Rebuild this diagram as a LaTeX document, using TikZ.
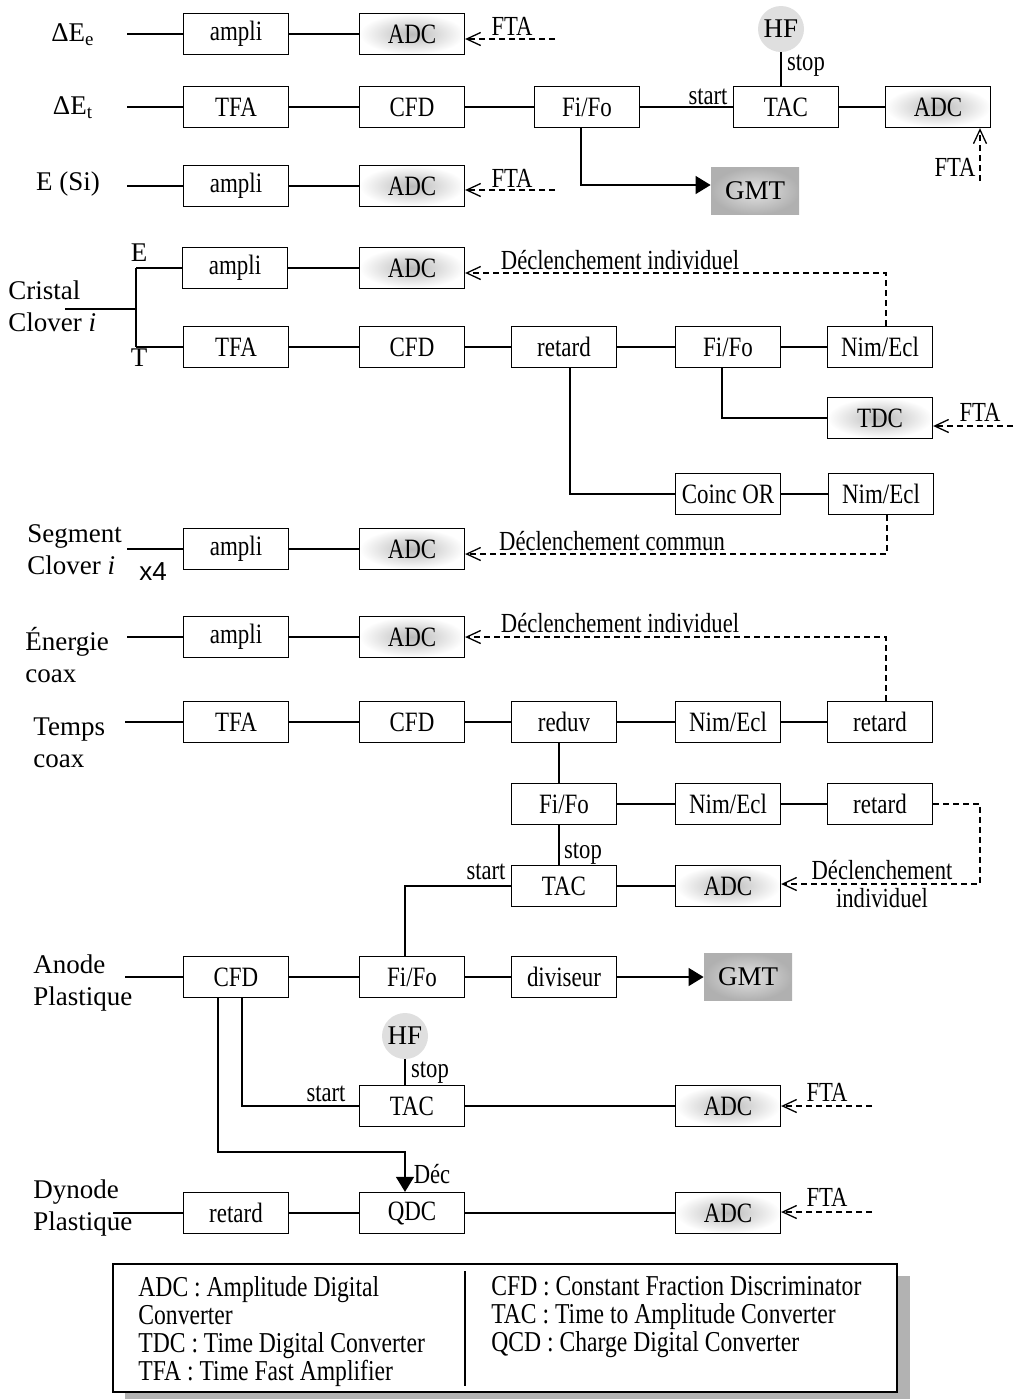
\documentclass[tikz,border=0pt]{standalone}
\usepackage{fontspec}
\setmainfont{Liberation Serif}[FakeStretch=0.82]
\newfontfamily\lblfont{Liberation Serif}
\newfontfamily\xfont{Liberation Sans}
\usetikzlibrary{arrows.meta}
\tikzset{
	blk/.style={draw, line width=0.65pt, minimum width=52.5pt, minimum height=20.5pt, inner sep=0pt, font=\fontsize{14}{15}\selectfont},
	adcbox/.style={blk, inner color=gray!55, outer color=white},
	gmtbox/.style={minimum width=44pt, minimum height=23.5pt, inner color=gray!22, outer color=gray!62, font=\lblfont\fontsize{13.5}{16}\selectfont},
	hfdot/.style={circle, fill=gray!25, minimum size=23pt, inner sep=0pt, font=\lblfont\fontsize{13.5}{16}\selectfont},
	lbl/.style={font=\lblfont\fontsize{13.5}{16}\selectfont, align=left, inner sep=0pt},
	tag/.style={font=\fontsize{13.8}{14}\selectfont, inner sep=0pt},
	keytext/.style={anchor=north west, align=left, inner sep=0pt, font=\fontsize{14.4}{14}\selectfont},
	wire/.style={line width=0.65pt},
	trig/.style={wire, dash pattern=on 3pt off 2pt, -{Straight Barb[length=7pt,width=6.5pt]}},
	feed/.style={wire, -{Triangle[length=7.5pt,width=9pt]}}
}
\begin{document}
\begin{tikzpicture}[x=0.5pt, y=-0.5pt]
	\useasboundingbox (0,0) rectangle (1016,1399);

	\node[lbl] (lDEe) at (73,35) {ΔE\textsubscript{e}};
	\node[lbl] (lDEt) at (73,108) {ΔE\textsubscript{t}};
	\node[lbl] (lESi) at (68,184) {E (Si)};
	\coordinate (in1) at (127,34);
	\coordinate (in2) at (127,107);
	\coordinate (in3) at (127,186);
	\node[blk] (amp1) at (236,34) {ampli};
	\node[adcbox] (adc1) at (412,34) {ADC};
	\node[blk] (tfa2) at (236,107) {TFA};
	\node[blk] (cfd2) at (412,107) {CFD};
	\node[blk] (fifo2) at (587,107) {Fi/Fo};
	\node[blk] (tac2) at (786,107) {TAC};
	\node[adcbox] (adc2) at (938,107) {ADC};
	\node[hfdot] (hf1) at (781,29) {HF};
	\node[gmtbox] (gmt1) at (755,191) {GMT};
	\node[blk] (amp3) at (236,186) {ampli};
	\node[adcbox] (adc3) at (412,186) {ADC};
	\coordinate (fta1) at (555,39);
	\coordinate (fta2) at (980,181);
	\coordinate (fta3) at (555,190);
	\node[tag] (tFta1) at (512,26) {FTA};
	\node[tag] (tFta2) at (955,167) {FTA};
	\node[tag] (tFta3) at (512,178) {FTA};
	\node[tag] (tStart2) at (708,97) {start};
	\node[tag] (tStop2) at (806,66) {stop};
	\draw[wire] (in1) -- (amp1) -- (adc1);
	\draw[wire] (in2) -- (tfa2) -- (cfd2) -- (fifo2) -- (tac2) -- (adc2);
	\draw[wire] (in3) -- (amp3) -- (adc3);
	\draw[wire] (hf1) -- (hf1 |- tac2.north);
	\draw[feed] ([xshift=-3pt]fifo2.south) |- ([yshift=3pt]gmt1.west);
	\draw[trig] (fta1) -- (fta1 -| adc1.east);
	\draw[trig] (fta3) -- (fta3 -| adc3.east);
	\draw[trig] (fta2) -- (fta2 |- adc2.south);

	\node[lbl, anchor=west] (lCris) at (8,306) {Cristal\\Clover \textit{i}};
	\node[lbl] (lE) at (139,253) {E};
	\node[lbl] (lT) at (139,358) {T};
	\coordinate (in4) at (65,309);
	\coordinate (br4) at (136,309);
	\coordinate (brE) at (136,268);
	\coordinate (brT) at (136,347);
	\node[blk] (ampE) at (235,268) {ampli};
	\node[adcbox] (adcE) at (412,268) {ADC};
	\node[blk] (tfaT) at (236,347) {TFA};
	\node[blk] (cfdT) at (412,347) {CFD};
	\node[blk] (retT) at (564,347) {retard};
	\node[blk] (fifoT) at (728,347) {Fi/Fo};
	\node[blk] (nimT) at (880,347) {Nim/Ecl};
	\node[adcbox] (tdc) at (880,418) {TDC};
	\node[blk] (coinc) at (728,494) {Coinc OR};
	\node[blk] (nimC) at (881,494) {Nim/Ecl};
	\coordinate (fta4) at (1013,426);
	\node[tag] (tFta4) at (980,412) {FTA};
	\node[tag] (tDecl1) at (620,260) {Déclenchement individuel};
	\draw[wire] (in4) -- (br4);
	\draw[wire] (brE) -- (brT);
	\draw[wire] (brE) -- (ampE) -- (adcE);
	\draw[wire] (brT) -- (tfaT) -- (cfdT) -- (retT) -- (fifoT) -- (nimT);
	\draw[wire] ([xshift=-3pt]fifoT.south) |- (tdc);
	\draw[wire] ([xshift=3pt]retT.south) |- (coinc);
	\draw[wire] (coinc) -- (nimC);
	\draw[trig] (fta4) -- (fta4 -| tdc.east);
	\draw[trig] ([xshift=3pt]nimT.north) |- ([yshift=-2.5pt]adcE.east);

	\node[lbl, anchor=west] (lSeg) at (27,550) {Segment\\Clover \textit{i}};
	\node[font=\xfont\fontsize{13}{15}\selectfont, inner sep=0pt] (lX4) at (153,572) {x4};
	\coordinate (in5) at (127,549);
	\node[blk] (ampS) at (236,549) {ampli};
	\node[adcbox] (adcS) at (412,549) {ADC};
	\node[tag] (tDecl2) at (612,541) {Déclenchement commun};
	\draw[wire] (in5) -- (ampS) -- (adcS);
	\draw[trig] ([xshift=3pt]nimC.south) |- ([yshift=-2.5pt]adcS.east);

	\node[lbl, anchor=west] (lEn) at (25,655) {Énergie\\coax};
	\node[lbl, anchor=west] (lTmp) at (33,743) {Temps\\coax};
	\coordinate (in6) at (127,637);
	\coordinate (in7) at (125,722);
	\node[blk] (ampEn) at (236,637) {ampli};
	\node[adcbox] (adcEn) at (412,637) {ADC};
	\node[blk] (tfa7) at (236,722) {TFA};
	\node[blk] (cfd7) at (412,722) {CFD};
	\node[blk] (red7) at (564,722) {reduv};
	\node[blk] (nim7) at (728,722) {Nim/Ecl};
	\node[blk] (ret7) at (880,722) {retard};
	\node[blk] (fifo8) at (564,804) {Fi/Fo};
	\node[blk] (nim8) at (728,804) {Nim/Ecl};
	\node[blk] (ret8) at (880,804) {retard};
	\node[blk] (tac9) at (564,886) {TAC};
	\node[adcbox] (adc9) at (728,886) {ADC};
	\coordinate (turn9) at (980,884);
	\node[tag] (tDecl3) at (620,623) {Déclenchement individuel};
	\node[tag, align=center] (tDecl4) at (882,884) {Déclenchement\\individuel};
	\node[tag] (tStop9) at (583,854) {stop};
	\node[tag] (tStart9) at (486,872) {start};
	\draw[wire] (in6) -- (ampEn) -- (adcEn);
	\draw[wire] (in7) -- (tfa7) -- (cfd7) -- (red7) -- (nim7) -- (ret7);
	\draw[wire] (fifo8) -- (nim8) -- (ret8);
	\draw[wire] ([xshift=-2.5pt]red7.south) -- ([xshift=-2.5pt]fifo8.north);
	\draw[wire] ([xshift=-2.5pt]fifo8.south) -- ([xshift=-2.5pt]tac9.north);
	\draw[wire] (tac9) -- (adc9);
	\draw[trig] ([xshift=3pt]ret7.north) |- (adcEn.east);
	\draw[trig] (ret8.east) -- (ret8.east -| turn9) -- (turn9) -- (turn9 -| adc9.east);

	\node[lbl, anchor=west] (lAn) at (33,983) {Anode\\Plastique};
	\coordinate (in10) at (125,977);
	\node[blk] (cfd10) at (236,977) {CFD};
	\node[blk] (fifo10) at (412,977) {Fi/Fo};
	\node[blk] (div10) at (564,977) {diviseur};
	\node[gmtbox] (gmt2) at (748,977) {GMT};
	\node[hfdot] (hf2) at (405,1036) {HF};
	\node[blk] (tac11) at (412,1106) {TAC};
	\node[adcbox] (adc11) at (728,1106) {ADC};
	\coordinate (fta11) at (872,1106);
	\coordinate (bend12) at (405,1152);
	\node[tag] (tStop11) at (430,1073) {stop};
	\node[tag] (tStart11) at (326,1094) {start};
	\node[tag] (tFta11) at (827,1092) {FTA};
	\node[tag] (tDec) at (432,1174) {Déc};
	\draw[wire] (in10) -- (cfd10) -- (fifo10) -- (div10);
	\draw[feed] (div10) -- (gmt2);
	\draw[wire] (tac9.west) -| ([xshift=-3.5pt]fifo10.north);
	\draw[wire] (hf2) -- (hf2 |- tac11.north);
	\draw[wire] ([xshift=3pt]cfd10.south) |- (tac11.west);
	\draw[wire] (tac11) -- (adc11);
	\draw[trig] (fta11) -- (fta11 -| adc11.east);

	\node[lbl, anchor=west] (lDyn) at (33,1208) {Dynode\\Plastique};
	\coordinate (in12) at (113,1213);
	\node[blk] (ret12) at (236,1213) {retard};
	\node[blk] (qdc12) at (412,1213) {QDC};
	\node[adcbox] (adc12) at (728,1213) {ADC};
	\coordinate (fta12) at (872,1212);
	\node[tag] (tFta12) at (827,1197) {FTA};
	\draw[wire] (in12) -- (ret12) -- (qdc12) -- (adc12);
	\draw[feed] ([xshift=-9pt]cfd10.south) |- (bend12) -- (bend12 |- qdc12.north);
	\draw[trig] (fta12) -- (fta12 -| adc12.east);

	\fill[gray!60] (125,1276) rectangle (910,1399);
	\draw[wire, fill=white] (113,1264) rectangle (897,1392);
	\draw[wire] (465,1271) -- (465,1386);
	\node[keytext] (key1) at (138,1276)
		{ADC : Amplitude Digital\\Converter\\TDC : Time Digital Converter\\TFA : Time Fast Amplifier};
	\node[keytext] (key2) at (491,1276)
		{CFD : Constant Fraction Discriminator\\TAC : Time to Amplitude Converter\\QCD : Charge Digital Converter};
\end{tikzpicture}
\end{document}
